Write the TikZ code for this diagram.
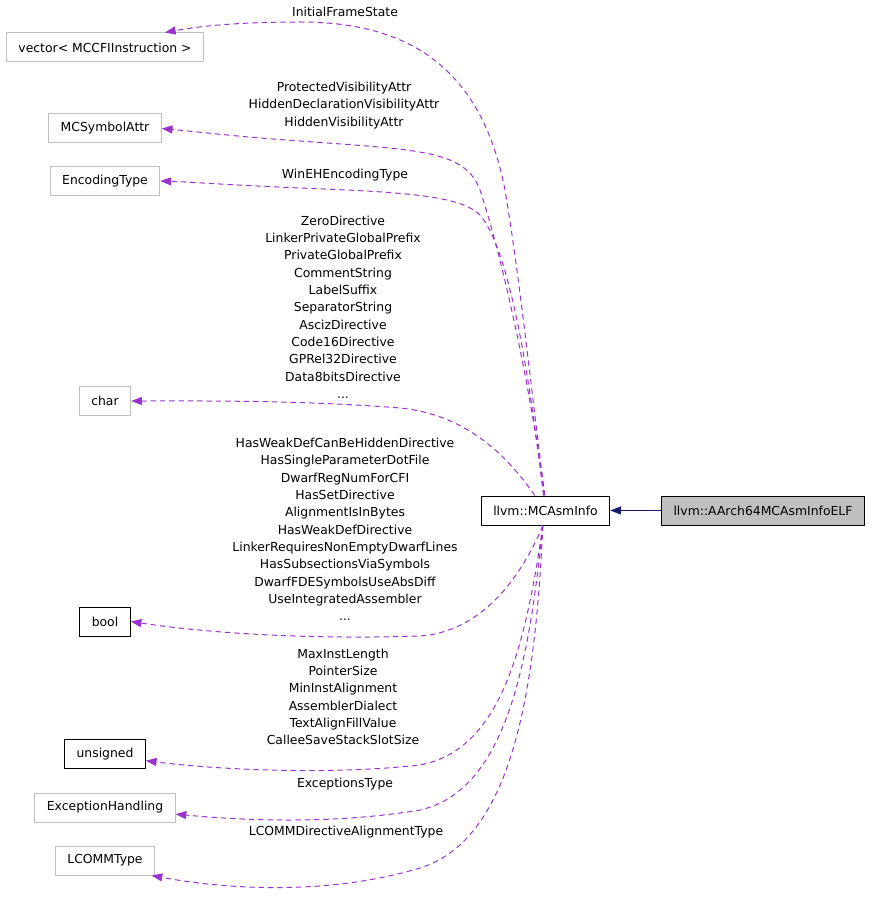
\documentclass[tikz,border=0pt]{standalone}
\usepackage{fontspec}
\setmainfont{DejaVu Sans}
\usetikzlibrary{arrows.meta}

\definecolor{edgepurple}{HTML}{9A32CD}
\definecolor{inhblue}{HTML}{191970}
\definecolor{boxgray}{HTML}{BFBFBF}

\begin{document}
\begin{tikzpicture}[
        x=0.75pt, y=-0.75pt,
        every node/.style={font=\fontsize{9.3pt}{13pt}\selectfont},
        typebox/.style={rectangle, draw=boxgray, line width=0.75pt, minimum height=21.75pt, inner xsep=9pt},
        docbox/.style={rectangle, draw=black, line width=0.75pt, minimum height=21.75pt, inner xsep=9pt},
        selfbox/.style={rectangle, draw=black, line width=0.75pt, fill=boxgray, minimum height=21.75pt, inner xsep=9pt},
        usage/.style={line width=0.75pt, draw=edgepurple, dash pattern=on 4pt off 3pt, -{Triangle[length=8pt, width=6pt, fill=edgepurple]}},
        inherit/.style={line width=0.75pt, draw=inhblue, -{Triangle[length=8pt, width=6pt, fill=inhblue]}},
        member/.style={align=center, inner sep=0pt}
        ]

        \useasboundingbox (0,0) rectangle (872,898);

        % The two classes
        \node[docbox] (MCAsmInfo) at (545.5,510.5) {llvm::MCAsmInfo};
        \node[selfbox] (ELF) at (763,510.5) {llvm::AArch64MCAsmInfoELF};

        % Member types (left column)
        \node[typebox] (Vector) at (105,47.5) {vector< MCCFIInstruction >};
        \node[typebox] (SymAttr) at (105,128.5) {MCSymbolAttr};
        \node[typebox] (EncType) at (105,181) {EncodingType};
        \node[typebox] (Char) at (105,401) {char};
        \node[docbox] (Bool) at (105,621.5) {bool};
        \node[docbox] (Unsigned) at (105,754) {unsigned};
        \node[typebox] (ExcHandling) at (105,807.5) {ExceptionHandling};
        \node[typebox] (LcommType) at (105,860.5) {LCOMMType};

        % Inheritance
        \draw[inherit] (ELF) -- (MCAsmInfo);

        % Usage edges (upper)
        \draw[usage] ([xshift=-0.5pt]MCAsmInfo.north) .. controls (530,380) and (520,280) .. (505,190)
            .. controls (480,60) and (400,22) .. (300,22) .. controls (240,22) and (200,26) .. ([xshift=45pt]Vector.north);
        \draw[usage] ([xshift=-1pt]MCAsmInfo.north) .. controls (530,380) and (500,250) .. (480,190)
            .. controls (465,150) and (420,150) .. (300,141) .. controls (240,137) and (200,132) .. (SymAttr.east);
        \draw[usage] ([xshift=-1.5pt]MCAsmInfo.north) .. controls (530,380) and (510,250) .. (480,215)
            .. controls (460,195) and (400,192) .. (300,188) .. controls (230,185) and (190,182) .. (EncType.east);
        \draw[usage] ([xshift=-8pt]MCAsmInfo.north) .. controls (510,460) and (470,415) .. (400,408)
            .. controls (300,400) and (200,401) .. (Char.east);

        % Usage edges (lower)
        \draw[usage] ([xshift=-2pt]MCAsmInfo.south) .. controls (520,580) and (480,632) .. (420,636)
            .. controls (300,640) and (200,632) .. (Bool.east);
        \draw[usage] ([xshift=-2pt]MCAsmInfo.south) .. controls (525,650) and (500,750) .. (420,765)
            .. controls (330,775) and (220,770) .. ([yshift=-5pt]Unsigned.east);
        \draw[usage] ([xshift=-2pt]MCAsmInfo.south) .. controls (530,650) and (510,790) .. (420,810)
            .. controls (330,825) and (240,820) .. ([yshift=-5pt]ExcHandling.east);
        \draw[usage] ([xshift=-2pt]MCAsmInfo.south) .. controls (535,700) and (510,840) .. (420,868)
            .. controls (330,895) and (230,890) .. ([xshift=35pt]LcommType.south);

        % Member names
        \node[member] (lblVector) at (345,12) {InitialFrameState};
        \node[member] (lblSymAttr) at (344,105.5) {ProtectedVisibilityAttr\\HiddenDeclarationVisibilityAttr\\HiddenVisibilityAttr};
        \node[member] (lblEncType) at (345,175) {WinEHEncodingType};
        \node[member] (lblChar) at (343,307) {ZeroDirective\\LinkerPrivateGlobalPrefix\\PrivateGlobalPrefix\\CommentString\\LabelSuffix\\SeparatorString\\AscizDirective\\Code16Directive\\GPRel32Directive\\Data8bitsDirective\\...};
        \node[member] (lblBool) at (345,529.5) {HasWeakDefCanBeHiddenDirective\\HasSingleParameterDotFile\\DwarfRegNumForCFI\\HasSetDirective\\AlignmentIsInBytes\\HasWeakDefDirective\\LinkerRequiresNonEmptyDwarfLines\\HasSubsectionsViaSymbols\\DwarfFDESymbolsUseAbsDiff\\UseIntegratedAssembler\\...};
        \node[member] (lblUnsigned) at (343,697) {MaxInstLength\\PointerSize\\MinInstAlignment\\AssemblerDialect\\TextAlignFillValue\\CalleeSaveStackSlotSize};
        \node[member] (lblExc) at (345,784) {ExceptionsType};
        \node[member] (lblLcomm) at (346,832) {LCOMMDirectiveAlignmentType};

    \end{tikzpicture}
\end{document}
